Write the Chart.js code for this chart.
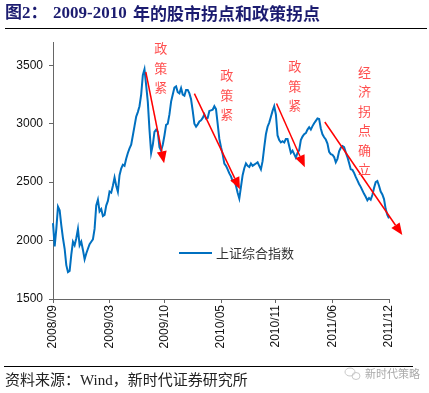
<!DOCTYPE html>
<html>
<head>
<meta charset="utf-8">
<script src="https://cdn.jsdelivr.net/npm/chart.js@4.4.0/dist/chart.umd.min.js"></script>
<style>
    html, body { margin: 0; padding: 0; background: #fff; }
</style>
</head>
<body>
<canvas id="szChart" width="429" height="393"></canvas>
<script>
// 上证综合指数（从图上读数，大约每两个交易日一个点）
const szValues = [
    2150, 1950, 2100, 2290, 2260, 2130, 2020, 1930, 1790, 1730,
    1740, 1880, 1990, 1960, 2020, 2100, 1960, 1990, 1920, 1840,
    1890, 1930, 1970, 1990, 2010, 2100, 2300, 2350, 2250, 2270,
    2210, 2220, 2300, 2340, 2420, 2410, 2470, 2540, 2470, 2418,
    2560, 2617, 2650, 2640, 2700, 2750, 2790, 2820, 2900, 2980,
    3060, 3100, 3150, 3250, 3415, 3466, 3330, 3187, 2950, 2750,
    2820, 2930, 2950, 2930, 2800, 2770, 2820, 2900, 2990, 3000,
    3080, 3190, 3250, 3310, 3320, 3270, 3260, 3305, 3250, 3240,
    3290, 3290, 3260, 3210, 3110, 3000, 2975, 2995, 3020, 3030,
    3050, 3080, 3045, 3050, 3110, 3115, 3120, 3150, 3125, 3000,
    2870, 2800, 2740, 2660, 2640, 2610, 2575, 2550, 2510, 2510,
    2470, 2410, 2360, 2460, 2560, 2620, 2660, 2640, 2630, 2660,
    2640, 2650, 2660, 2670, 2640, 2610, 2680, 2800, 2910, 2975,
    3010, 3060, 3110, 3150, 3080, 2900, 2860, 2840, 2850, 2840,
    2870, 2870, 2810, 2750, 2770, 2740, 2710, 2750, 2775, 2860,
    2890, 2910, 2920, 2950, 2970, 2950, 2980, 3005, 3025, 3045,
    3040, 2960, 2910, 2885, 2865, 2830, 2760, 2740, 2735, 2715,
    2670, 2700, 2765, 2795, 2810, 2800, 2755, 2715, 2665, 2610,
    2605, 2580, 2545, 2515, 2485, 2460, 2430, 2400, 2375, 2345,
    2365, 2350, 2390, 2450, 2500, 2510, 2470, 2420, 2395, 2355,
    2270, 2220, 2190
];

// 横轴刻度
const tickLabels = ['2008/09', '2009/03', '2009/10', '2010/05', '2010/11', '2011/06', '2011/12'];
const tickIndex = [0, 34, 67, 101, 134, 168, 202];

// 纵轴刻度
const yTicks = [1500, 2000, 2500, 3000, 3500];

// 箭头：[起点序号, 起点值, 终点序号, 终点值]
const arrows = [
    [55.8, 3443, 66.8, 2662],
    [85, 3258, 112.4, 2440],
    [134.4, 3173, 151.4, 2628],
    [163.4, 3015, 210, 2047]
];

// 红色竖排注释：[文字, 序号, 第一个字所在的值]
const notes = [
    ['政策紧', 64.8, 3645],
    ['政策紧', 104.4, 3415],
    ['政策紧', 145.4, 3491],
    ['经济拐点确立', 187.3, 3443]
];

const labels = szValues.map((v, i) => {
    const k = tickIndex.indexOf(i);
    return k >= 0 ? tickLabels[k] : '';
});

// 标题、来源、箭头、图例都在这里画
const extrasPlugin = {
    id: 'extras',
    afterDraw(chart) {
        const ctx = chart.ctx;
        const xs = chart.scales.x;
        const ys = chart.scales.y;
        const area = chart.chartArea;
        ctx.save();

        // 标题
        ctx.fillStyle = '#1c1c70';
        ctx.textBaseline = 'middle';
        ctx.font = 'bold 17px "Liberation Serif", "Noto Sans CJK SC"';
        ctx.fillText('图2：', 5, 14);
        ctx.font = 'bold 17px "Liberation Serif", "Noto Sans CJK SC"';
        ctx.fillText('2009-2010', 53, 14);
        ctx.font = 'bold 17px "Noto Sans CJK SC"';
        ctx.fillText('年的股市拐点和政策拐点', 133, 14);

        ctx.strokeStyle = '#000';
        ctx.lineWidth = 1;
        ctx.beginPath();
        ctx.moveTo(5, 28.5);
        ctx.lineTo(427, 28.5);
        ctx.stroke();

        // 底部来源
        ctx.beginPath();
        ctx.moveTo(4, 366.5);
        ctx.lineTo(413, 366.5);
        ctx.stroke();
        ctx.fillStyle = '#222';
        ctx.font = '15px "Liberation Serif", "Noto Sans CJK SC"';
        ctx.fillText('资料来源：Wind，新时代证券研究所', 5, 381);

        // 水印
        ctx.strokeStyle = '#c8c8c8';
        ctx.beginPath();
        ctx.ellipse(350, 372, 5, 4, 0, 0, Math.PI * 2);
        ctx.stroke();
        ctx.beginPath();
        ctx.ellipse(356, 376, 4, 3.5, 0, 0, Math.PI * 2);
        ctx.stroke();
        ctx.fillStyle = '#aaa';
        ctx.font = '11px "Noto Sans CJK SC"';
        ctx.fillText('新时代策略', 365, 374);

        // 图例
        const lx = area.left + 126;
        ctx.strokeStyle = '#0070C0';
        ctx.lineWidth = 2;
        ctx.beginPath();
        ctx.moveTo(lx, 253);
        ctx.lineTo(lx + 33, 253);
        ctx.stroke();
        ctx.fillStyle = '#333';
        ctx.font = '13px "Noto Sans CJK SC"';
        ctx.fillText(chart.data.datasets[0].label, lx + 37, 253);

        // 红色箭头
        ctx.strokeStyle = '#ff0000';
        ctx.fillStyle = '#ff0000';
        ctx.lineWidth = 1.5;
        arrows.forEach(a => {
            const x1 = xs.getPixelForValue(a[0]), y1 = ys.getPixelForValue(a[1]);
            const x2 = xs.getPixelForValue(a[2]), y2 = ys.getPixelForValue(a[3]);
            const ang = Math.atan2(y2 - y1, x2 - x1);
            const head = 12, half = 5;
            const bx = x2 - head * Math.cos(ang), by = y2 - head * Math.sin(ang);
            ctx.beginPath();
            ctx.moveTo(x1, y1);
            ctx.lineTo(bx, by);
            ctx.stroke();
            ctx.beginPath();
            ctx.moveTo(x2, y2);
            ctx.lineTo(bx + half * Math.sin(ang), by - half * Math.cos(ang));
            ctx.lineTo(bx - half * Math.sin(ang), by + half * Math.cos(ang));
            ctx.closePath();
            ctx.fill();
        });

        // 竖排注释
        ctx.fillStyle = '#ff4d4d';
        ctx.font = '13px "Noto Sans CJK SC"';
        ctx.textAlign = 'center';
        notes.forEach(n => {
            const x = xs.getPixelForValue(n[1]);
            const y0 = ys.getPixelForValue(n[2]);
            [...n[0]].forEach((ch, i) => ctx.fillText(ch, x, y0 + i * 19.5));
        });

        ctx.restore();
    }
};

const canvasElement = document.getElementById('szChart');
new Chart(canvasElement.getContext('2d'), {
    type: 'line',
    data: {
        labels: labels,
        datasets: [{
            label: '上证综合指数',
            data: szValues,
            borderColor: '#0070C0',
            borderWidth: 2,
            pointRadius: 0,
            tension: 0,
            fill: false
        }]
    },
    options: {
        responsive: false,
        animation: false,
        layout: { padding: { top: 42, right: 40, left: 0, bottom: 0 } },
        plugins: {
            legend: { display: false },
            tooltip: { enabled: false }
        },
        scales: {
            x: {
                grid: {
                    drawOnChartArea: false,
                    tickLength: 4,
                    tickColor: c => (c.tick && c.tick.label) ? '#666' : 'rgba(0,0,0,0)'
                },
                border: { color: '#666' },
                ticks: {
                    autoSkip: false,
                    maxRotation: 90,
                    minRotation: 90,
                    padding: 2,
                    color: '#111',
                    font: { family: '"Liberation Sans", Arial', size: 12 }
                },
                afterFit: s => { s.height = 94; }
            },
            y: {
                min: 1500,
                max: 3700,
                afterBuildTicks: s => { s.ticks = yTicks.map(v => ({ value: v })); },
                grid: { drawOnChartArea: false, tickLength: 4, tickColor: '#666' },
                border: { color: '#666' },
                ticks: {
                    padding: 6,
                    color: '#111',
                    font: { family: '"Liberation Sans", Arial', size: 12 },
                    callback: v => String(v)
                },
                afterFit: s => { s.width = 53; }
            }
        }
    },
    plugins: [extrasPlugin]
});
</script>
</body>
</html>
